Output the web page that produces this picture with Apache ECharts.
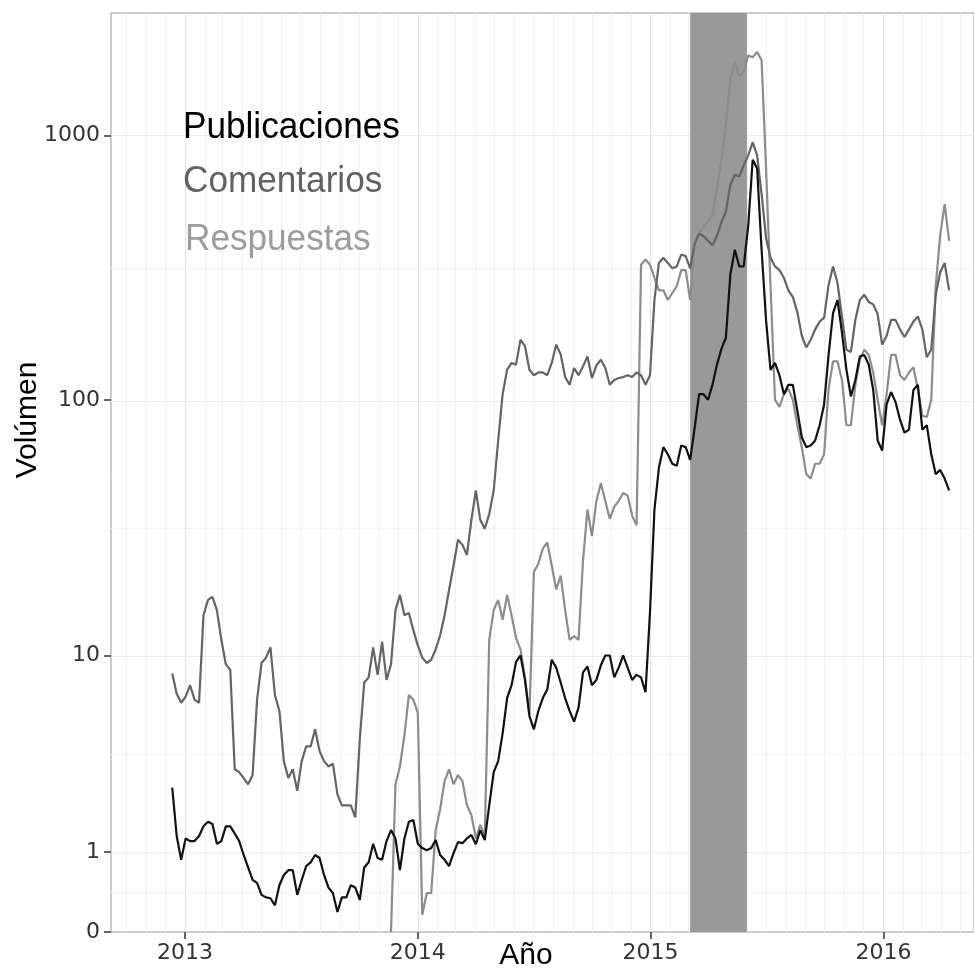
<!DOCTYPE html>
<html>
<head>
<meta charset="utf-8">
<script src="https://cdn.jsdelivr.net/npm/echarts@6/dist/echarts.min.js"></script>
<style>
  html, body { margin: 0; padding: 0; background: #fff; }
  #chart { width: 974px; height: 970px; }
</style>
</head>
<body>
<div id="chart"></div>
<script>
// weekly samples, first one on 2012-12-12
var firstWeek = '2012-12-12';
var stepDays = 7;

var publicaciones = [
  2.5, 1.3, 0.87, 1.25, 1.2, 1.2, 1.3, 1.5, 1.6, 1.55,
  1.15, 1.2, 1.5, 1.5, 1.35, 1.2, 0.95, 0.75, 0.57, 0.53,
  0.38, 0.35, 0.34, 0.26, 0.5, 0.64, 0.71, 0.71, 0.38, 0.57,
  0.77, 0.83, 0.95, 0.9, 0.64, 0.47, 0.4, 0.19, 0.35, 0.35,
  0.5, 0.47, 0.32, 0.75, 0.83, 1.15, 0.9, 0.87, 1.2, 1.42,
  1.25, 0.71, 1.25, 1.6, 1.64, 1.15, 1.07, 1.03, 1.07, 1.22,
  0.95, 0.87, 0.77, 0.98, 1.18, 1.16, 1.25, 1.32, 1.14, 1.42,
  1.22, 2.0, 3.0, 3.4, 4.6, 6.6, 7.5, 9.4, 10, 7.9,
  5.5, 4.8, 5.8, 6.6, 7.2, 9.6, 8.9, 7.7, 6.6, 5.8,
  5.2, 6, 8.5, 9, 7.5, 7.9, 9.1, 10, 10, 8.1,
  8.9, 10, 8.9, 7.9, 8.3, 8.1, 7, 15, 38, 55,
  66, 62, 57, 56, 67, 66, 59, 78, 105, 105,
  100, 114, 136, 156, 172, 298, 370, 320, 320, 455,
  808, 750, 370, 200, 130, 138, 124, 105, 114, 114,
  91, 72, 66, 67, 70, 80, 96, 148, 213, 239,
  180, 130, 103, 119, 146, 148, 136, 109, 70, 64,
  96, 107, 98, 84, 75, 77, 109, 114, 77, 80,
  62, 52, 54, 50, 45
];

var comentarios = [
  8.4, 6.9, 6.3, 6.7, 7.5, 6.5, 6.3, 14.6, 16.8, 17.3,
  15.3, 11.6, 9.2, 8.7, 3.1, 3.0, 2.8, 2.6, 2.9, 6.5,
  9.3, 9.8, 10.8, 6.8, 5.8, 3.4, 2.8, 3.1, 2.4, 3.4,
  4.0, 4.0, 4.8, 3.8, 3.4, 3.2, 3.3, 2.3, 2.0, 2.0,
  2.0, 1.7, 4.3, 7.7, 8.1, 10.8, 8.3, 11.4, 7.9, 9.2,
  15.3, 17.6, 14.6, 14.9, 12.7, 11.0, 9.8, 9.3, 9.6, 10.6,
  12.1, 14.6, 18.4, 23, 29, 27.7, 25.3, 34.6, 45, 34.6,
  32, 36.5, 45, 70, 105, 130, 138, 136, 169, 160,
  130, 124, 127, 127, 124, 138, 162, 149, 122, 114,
  132, 124, 134, 146, 121, 135, 142, 132, 114, 119,
  121, 122, 124, 122, 127, 124, 114, 124, 239, 330,
  345, 330, 315, 320, 355, 350, 315, 390, 425, 417,
  400, 385, 417, 470, 515, 650, 710, 700, 770, 840,
  940, 840, 600, 410, 345, 320, 310, 290, 260, 245,
  215, 175, 158, 169, 185, 198, 205, 272, 320, 277,
  207, 155, 152, 201, 239, 250, 235, 230, 211, 162,
  175, 201, 201, 185, 173, 185, 198, 207, 185, 145,
  155, 250, 305, 330, 260
];

// respuestas only start in week 49 (end of 2013)
var respuestasOffset = 49;
var respuestas = [
  0,
  2.6, 3.2, 4.5, 6.8, 6.5, 5.7, 0.16, 0.4, 0.4, 1.42,
  1.9, 2.7, 3.1, 2.6, 2.9, 2.7, 2.0, 1.76, 1.25, 1.53,
  1.3, 11.6, 15.3, 16.8, 14, 17.6, 14.6, 11.8, 10.6, 8.1,
  5.6, 21.7, 23.4, 26.8, 28.3, 23, 18.5, 21, 15.3, 11.6,
  12, 11.6, 24, 38, 30, 41, 48, 41, 35, 39,
  41, 44, 43, 36, 33, 325, 340, 325, 290, 260,
  260, 239, 254, 270, 310, 310, 239, 385, 430, 450,
  475, 500, 630, 808, 1100, 1620, 1880, 1670, 1740, 2000,
  1970, 2060, 1920, 750, 270, 100, 94, 105, 110, 100,
  80, 66, 52, 50, 57, 57, 62, 110, 140, 140,
  119, 80, 80, 114, 142, 155, 148, 127, 100, 80,
  105, 148, 148, 124, 119, 127, 133, 110, 87, 86,
  100, 270, 420, 550, 400
];

var yTickValues = [0, 1, 10, 100, 1000];
var yearTicks = [2013, 2014, 2015, 2016];
var bandDates = ['2015-03-04', '2015-06-01'];
var xRange = ['2012-09-07', '2016-05-22'];

function day(s) {
  var p = s.split('-');
  return Date.UTC(+p[0], +p[1] - 1, +p[2]);
}
// y axis is log10(x + 1)
function tf(v) { return Math.log10(v + 1); }

var t0 = day(firstWeek);
var DAY = 86400000;
function toPairs(arr, offset) {
  return arr.map(function (v, i) {
    return [t0 + (i + offset) * stepDays * DAY, tf(v)];
  });
}

var xMin = day(xRange[0]), xMax = day(xRange[1]);
var yTicks = yTickValues.map(tf);
var yearStamps = yearTicks.map(function (y) { return Date.UTC(y, 0, 1); });

// background grid (ggplot-like), major + minor
var gridLines = [];
for (var y = 2012; y <= 2016; y++) {
  for (var m = 0; m < 12; m++) {
    var t = Date.UTC(y, m, 1);
    if (t > xMin && t < xMax) {
      gridLines.push({ xAxis: t, lineStyle: { color: m === 0 ? '#e3e3e3' : '#f0f0f0', width: 1, type: 'solid' } });
    }
  }
}
for (var k = 1; k < yTicks.length; k++) {
  gridLines.push({ yAxis: yTicks[k], lineStyle: { color: '#ebebeb', width: 1.2, type: 'solid' } });
  gridLines.push({ yAxis: (yTicks[k] + yTicks[k - 1]) / 2, lineStyle: { color: '#f4f4f4', width: 1, type: 'solid' } });
}

var chart = echarts.init(document.getElementById('chart'));
var labelFont = { fontFamily: 'DejaVu Sans', fontSize: 22, color: '#333' };
var legendFont = '37px "Liberation Sans", Arial, sans-serif';

chart.setOption({
  animation: false,
  backgroundColor: '#fff',
  grid: {
    left: 111, top: 13, right: 0, bottom: 38,
    show: true, borderColor: '#9a9a9a', borderWidth: 1, backgroundColor: 'transparent'
  },
  xAxis: {
    type: 'value',
    min: xMin, max: xMax,
    axisLine: { show: false },
    splitLine: { show: false },
    axisTick: { show: true, length: 7, customValues: yearStamps, lineStyle: { color: '#333', width: 1.5 } },
    axisLabel: Object.assign({
      margin: 10,
      customValues: yearStamps,
      formatter: function (v) { return String(new Date(v).getUTCFullYear()); }
    }, labelFont)
  },
  yAxis: {
    type: 'value',
    min: 0, max: 3.461,
    axisLine: { show: false },
    splitLine: { show: false },
    axisTick: { show: true, length: 7, customValues: yTicks, lineStyle: { color: '#333', width: 1.5 } },
    axisLabel: Object.assign({
      margin: 11,
      customValues: yTicks,
      formatter: function (v) {
        var best = 0;
        for (var i = 1; i < yTicks.length; i++) {
          if (Math.abs(yTicks[i] - v) < Math.abs(yTicks[best] - v)) best = i;
        }
        return String(yTickValues[best]);
      }
    }, labelFont)
  },
  graphic: [
    { type: 'text', x: 183, y: 128, scaleX: 0.95, z: 10,
      style: { text: 'Publicaciones', font: legendFont, fill: '#000', verticalAlign: 'middle' } },
    { type: 'text', x: 183, y: 182, scaleX: 0.95, z: 10,
      style: { text: 'Comentarios', font: legendFont, fill: '#626262', verticalAlign: 'middle' } },
    { type: 'text', x: 185, y: 240, scaleX: 0.95, z: 10,
      style: { text: 'Respuestas', font: legendFont, fill: '#9c9c9c', verticalAlign: 'middle' } },
    { type: 'text', x: 526, y: 956,
      style: { text: 'Año', font: '30px "Liberation Sans", Arial, sans-serif', fill: '#000', align: 'center', verticalAlign: 'middle' } },
    { type: 'text', x: 28, y: 420, rotation: Math.PI / 2,
      style: { text: 'Volúmen', font: '30px "Liberation Sans", Arial, sans-serif', fill: '#000', align: 'center', verticalAlign: 'middle' } }
  ],
  series: [
    {
      type: 'line', data: [], z: 1, silent: true,
      markLine: { z: 1, silent: true, symbol: ['none', 'none'], label: { show: false }, animation: false, data: gridLines }
    },
    {
      type: 'line', data: [], z: 2, silent: true,
      markArea: { z: 2, silent: true, itemStyle: { color: '#999999' }, label: { show: false },
        data: [[{ xAxis: day(bandDates[0]) }, { xAxis: day(bandDates[1]) }]] }
    },
    {
      name: 'Respuestas', type: 'line', z: 3, showSymbol: false, symbol: 'none',
      data: toPairs(respuestas, respuestasOffset),
      lineStyle: { color: '#8c8c8c', width: 2.2 }
    },
    {
      name: 'Comentarios', type: 'line', z: 4, showSymbol: false, symbol: 'none',
      data: toPairs(comentarios, 0),
      lineStyle: { color: '#646464', width: 2.2 }
    },
    {
      name: 'Publicaciones', type: 'line', z: 5, showSymbol: false, symbol: 'none',
      data: toPairs(publicaciones, 0),
      lineStyle: { color: '#111111', width: 2.2 }
    }
  ]
});
</script>
</body>
</html>
